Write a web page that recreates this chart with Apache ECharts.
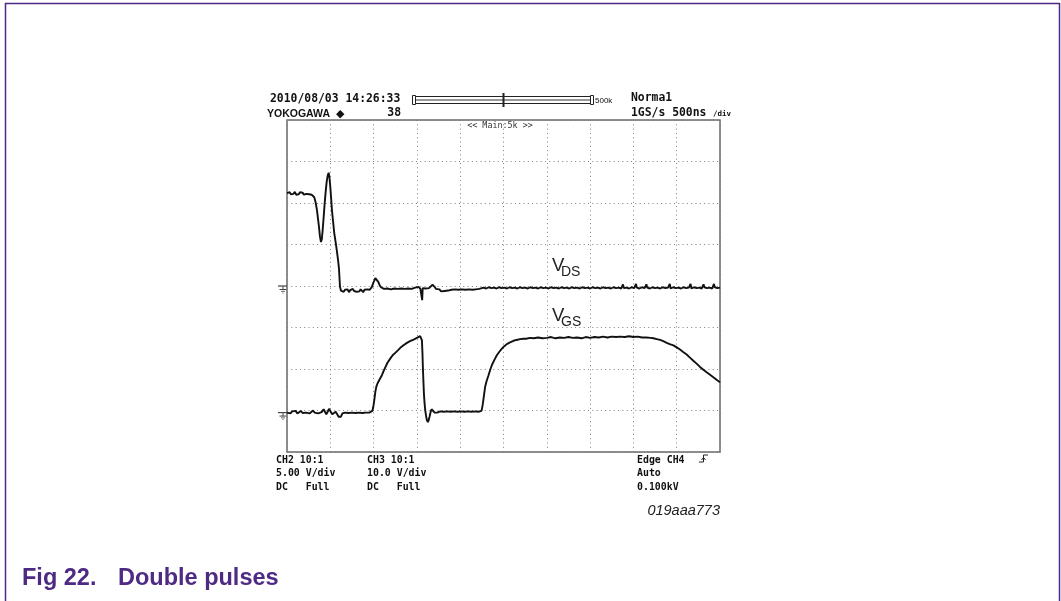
<!DOCTYPE html>
<html>
<head>
<meta charset="utf-8">
<title>Fig 22. Double pulses</title>
<script src="https://cdn.jsdelivr.net/npm/echarts@6/dist/echarts.min.js"></script>
<style>
  html, body { margin: 0; padding: 0; background: #ffffff; }
  #chart { width: 1061px; height: 601px; }
</style>
</head>
<body>
<div id="chart"></div>
<script>
// Time base: 10 divisions of 500 ns
const timeMin = 0;
const timeMax = 5000;
const timePerDiv = 500;
const yDivisions = 8;

// Channel scaling and ground reference (in screen divisions from bottom)
const vdsVoltsPerDiv = 10;
const vgsVoltsPerDiv = 5;
const vdsGroundDiv = 4.0;
const vgsGroundDiv = 0.95;

// Drain-source voltage, [time ns, volts]
const vdsTrace = [
  [0,22.4],[15,22.0],[30,22.6],[45,22.1],[60,22.5],[75,22.2],[90,22.7],[105,22.0],[120,22.4],[135,22.1],
  [150,22.6],[165,22.2],[180,22.5],[195,22.0],[210,22.4],[225,22.2],[240,22.6],[255,22.1],[270,22.3],[285,22.0],
  [300,21.9],[315,21.4],[330,20.2],[346,18.3],[358,16.2],[369,14.3],[380,12.0],[392,10.6],[402,11.3],[412,13.5],
  [424,16.8],[435,19.9],[447,22.8],[458,25.1],[470,26.6],[481,27.3],[490,26.2],[500,23.9],[510,21.0],[519,18.3],
  [532,15.6],[546,12.7],[562,10.5],[577,8.3],[590,6.2],[600,4.2],[606,2.0],[612,-0.2],[623,-1.1],[640,-0.8],
  [655,-1.4],[670,-0.9],[685,-1.3],[700,-0.8],[715,-1.5],[730,-1.0],[745,-1.3],[760,-0.7],[775,-1.2],[790,-0.9],
  [805,-1.4],[820,-1.0],[835,-1.3],[850,-0.8],[865,-1.2],[880,-1.5],[895,-0.9],[910,-1.2],[925,-0.8],[940,-1.1],
  [955,-0.9],[970,-0.5],[981,-0.2],[995,0.7],[1008,1.3],[1020,1.9],[1031,2.1],[1042,1.8],[1054,1.0],[1070,0.2],
  [1085,-0.3],[1100,-0.5],[1120,-0.7],[1140,-0.4],[1160,-0.6],[1180,-0.5],[1200,-0.8],[1220,-0.5],[1240,-0.6],[1260,-0.4],
  [1280,-0.7],[1300,-0.5],[1320,-0.6],[1340,-0.4],[1360,-0.7],[1380,-0.5],[1400,-0.6],[1420,-0.3],[1440,-0.7],[1460,-0.5],
  [1480,-0.4],[1500,-0.6],[1520,-0.2],[1540,-0.7],[1555,-0.4],[1561,-3.4],[1567,-0.5],[1580,-0.3],[1600,-0.6],[1620,-0.2],
  [1640,-0.5],[1660,-0.1],[1680,0.3],[1692,0.4],[1705,-0.2],[1720,-0.7],[1740,-1.0],[1760,-0.8],[1780,-1.3],[1800,-0.9],
  [1820,-1.2],[1840,-0.8],[1860,-1.1],[1880,-1.4],[1900,-0.9],[1920,-1.2],[1940,-0.8],[1960,-1.1],[1980,-0.9],[2000,-1.3],
  [2020,-0.8],[2040,-1.1],[2060,-0.9],[2080,-1.2],[2100,-0.8],[2120,-1.1],[2140,-0.9],[2160,-1.2],[2180,-0.8],[2200,-1.0],
  [2220,-0.7],[2240,-0.6],[2270,-0.4],[2300,-0.6],[2330,-0.3],[2360,-0.5],[2390,-0.4],[2420,-0.6],[2450,-0.3],[2480,-0.5],
  [2510,-0.4],[2540,-0.6],[2570,-0.3],[2600,-0.5],[2630,-0.4],[2660,-0.6],[2690,-0.3],[2720,-0.5],[2750,-0.4],[2780,-0.6],
  [2810,-0.3],[2840,-0.5],[2870,-0.4],[2900,-0.6],[2930,-0.3],[2960,-0.5],[2990,-0.4],[3020,-0.6],[3050,-0.3],[3080,-0.5],
  [3110,-0.4],[3140,-0.6],[3170,-0.3],[3200,-0.5],[3230,-0.4],[3260,-0.6],[3290,-0.3],[3320,-0.5],[3350,-0.4],[3380,-0.6],
  [3410,-0.3],[3440,-0.5],[3470,-0.4],[3500,-0.6],[3530,-0.3],[3560,-0.5],[3590,-0.4],[3620,-0.6],[3650,-0.3],[3680,-0.5],
  [3710,-0.4],[3740,-0.6],[3770,-0.3],[3800,-0.5],[3830,-0.4],[3860,-0.6],[3880,0.4],[3890,-0.5],[3920,-0.4],[3950,-0.6],
  [3980,-0.3],[4010,-0.5],[4030,0.5],[4040,-0.4],[4070,-0.6],[4100,-0.3],[4130,-0.5],[4150,0.4],[4160,-0.4],[4190,-0.6],
  [4220,-0.3],[4250,-0.5],[4280,-0.4],[4310,-0.6],[4340,-0.3],[4370,-0.5],[4400,-0.4],[4420,0.5],[4430,-0.6],[4460,-0.3],
  [4490,-0.5],[4520,-0.4],[4550,-0.6],[4580,-0.3],[4610,-0.5],[4640,-0.4],[4660,0.5],[4670,-0.6],[4700,-0.3],[4730,-0.5],
  [4760,-0.4],[4790,-0.6],[4810,0.4],[4820,-0.3],[4850,-0.5],[4880,-0.4],[4910,-0.6],[4930,0.5],[4940,-0.3],[4970,-0.5],
  [5000,-0.4]
];

// Gate-source voltage, [time ns, volts]
const vgsTrace = [
  [0,0.0],[20,0.2],[40,-0.1],[60,0.15],[80,0.0],[100,0.2],[120,-0.1],[140,0.1],[160,0.2],[180,-0.05],
  [200,0.15],[220,0.0],[240,0.2],[260,-0.1],[280,0.1],[300,0.25],[320,0.0],[340,0.15],[360,-0.1],[380,0.1],
  [400,0.05],[423,0.4],[438,0.1],[454,-0.2],[470,0.1],[485,0.45],[500,0.2],[523,-0.2],[540,0.0],[562,0.1],
  [580,-0.2],[596,-0.5],[610,-0.6],[623,-0.5],[640,-0.1],[654,0.1],[670,0.0],[690,0.15],[710,-0.05],[730,0.1],
  [750,0.0],[770,0.2],[790,-0.05],[810,0.1],[830,0.0],[850,0.15],[870,-0.05],[890,0.1],[910,0.0],[930,0.15],
  [950,0.0],[970,0.1],[985,0.2],[995,0.6],[1008,1.5],[1020,2.5],[1031,3.1],[1045,3.5],[1058,3.7],[1075,4.1],
  [1096,4.5],[1115,5.0],[1135,5.45],[1160,6.0],[1192,6.5],[1220,6.9],[1250,7.2],[1280,7.5],[1308,7.8],[1345,8.1],
  [1385,8.4],[1420,8.6],[1462,8.8],[1500,9.0],[1538,9.2],[1552,9.3],[1558,8.7],[1564,7.2],[1569,5.5],[1575,3.8],
  [1581,2.3],[1588,1.2],[1596,0.3],[1606,-0.4],[1615,-0.9],[1627,-1.15],[1636,-0.9],[1646,-0.5],[1657,0.0],[1669,0.4],
  [1680,0.35],[1692,0.25],[1705,0.0],[1719,-0.17],[1735,0.0],[1750,0.05],[1770,0.15],[1790,-0.05],[1810,0.1],[1830,0.0],
  [1850,0.15],[1870,-0.05],[1890,0.1],[1910,0.0],[1930,0.15],[1950,-0.05],[1970,0.1],[1990,0.0],[2010,0.15],[2030,-0.05],
  [2050,0.1],[2070,0.0],[2090,0.15],[2110,-0.05],[2130,0.1],[2150,0.0],[2170,0.15],[2190,-0.05],[2210,0.1],[2231,0.05],
  [2246,0.2],[2254,0.6],[2262,1.1],[2275,2.1],[2288,3.1],[2305,3.8],[2327,4.5],[2345,5.1],[2365,5.7],[2395,6.35],
  [2423,6.9],[2450,7.3],[2481,7.7],[2510,8.0],[2538,8.25],[2575,8.45],[2615,8.65],[2650,8.75],[2692,8.85],[2730,8.9],
  [2750,9.1],[2760,8.9],[2808,9.0],[2850,8.95],[2900,9.05],[2950,8.95],[3000,9.0],[3050,9.1],[3100,8.95],[3150,9.05],
  [3200,9.0],[3250,9.1],[3300,9.0],[3350,9.05],[3400,8.95],[3450,9.1],[3500,9.0],[3550,9.1],[3600,9.05],[3650,9.15],
  [3700,9.05],[3750,9.15],[3800,9.1],[3846,9.15],[3900,9.1],[3950,9.2],[4000,9.1],[4050,9.15],[4100,9.05],[4150,9.05],
  [4200,9.0],[4231,8.95],[4270,8.85],[4308,8.75],[4345,8.6],[4385,8.4],[4420,8.25],[4462,8.1],[4500,7.85],[4538,7.6],
  [4575,7.3],[4615,7.0],[4650,6.65],[4692,6.25],[4730,5.9],[4769,5.5],[4808,5.15],[4846,4.85],[4885,4.55],[4923,4.25],
  [4960,3.95],[5000,3.65]
];

// Scope readout texts
const headerDate = '2010/08/03 14:26:33';
const headerMode = 'Norma1';
const headerBrand = 'YOKOGAWA';
const headerCount = '38';
const headerRate = '1GS/s 500ns';
const headerZoom = '<< Main:5k >>';
const recordLength = '500k';
const ch2Lines = ['CH2 10:1', '5.00 V/div', 'DC   Full'];
const ch3Lines = ['CH3 10:1', '10.0 V/div', 'DC   Full'];
const trigLines = ['Edge CH4', 'Auto', '0.100kV'];
const figureId = '019aaa773';
const captionNumber = 'Fig 22.';
const captionTitle = 'Double pulses';

const MONO = '"DejaVu Sans Mono", monospace';
const SANS = '"Liberation Sans", Arial, sans-serif';
const PURPLE = '#4e2a84';
const INK = '#111111';

const chart = echarts.init(document.getElementById('chart'), null, { renderer: 'canvas' });

const dotted = { color: '#808080', width: 1, type: [1, 3.3] };

chart.setOption({
  animation: false,
  backgroundColor: '#ffffff',
  grid: {
    left: 287, top: 120, width: 433, height: 332,
    show: true, borderColor: '#6a6a6a', borderWidth: 1.5, backgroundColor: 'transparent'
  },
  xAxis: {
    type: 'value', min: timeMin, max: timeMax, interval: timePerDiv,
    axisLine: { show: false }, axisTick: { show: false }, axisLabel: { show: false },
    splitLine: { show: true, lineStyle: dotted }
  },
  yAxis: [
    {
      type: 'value', min: 0, max: yDivisions, interval: 1,
      axisLine: { show: false }, axisTick: { show: false }, axisLabel: { show: false },
      splitLine: { show: true, lineStyle: dotted }
    },
    {
      type: 'value', show: false,
      min: -vdsGroundDiv * vdsVoltsPerDiv,
      max: (yDivisions - vdsGroundDiv) * vdsVoltsPerDiv,
      splitLine: { show: false }
    },
    {
      type: 'value', show: false,
      min: -vgsGroundDiv * vgsVoltsPerDiv,
      max: (yDivisions - vgsGroundDiv) * vgsVoltsPerDiv,
      splitLine: { show: false }
    }
  ],
  series: [
    {
      name: 'VDS', type: 'line', yAxisIndex: 1, data: vdsTrace,
      showSymbol: false, smooth: false, clip: true,
      lineStyle: { color: INK, width: 1.9 }
    },
    {
      name: 'VGS', type: 'line', yAxisIndex: 2, data: vgsTrace,
      showSymbol: false, smooth: false, clip: true,
      lineStyle: { color: INK, width: 1.9 }
    }
  ]
});

function txt(text, x, y, font, opts) {
  const o = opts || {};
  return {
    type: 'text', silent: true,
    style: {
      text: text, x: x, y: y, font: font, fill: o.fill || INK,
      align: o.align || 'left', verticalAlign: 'middle',
      textAlign: o.align || 'left', textVerticalAlign: 'middle'
    }
  };
}
function seg(x1, y1, x2, y2, w, color) {
  return {
    type: 'line', silent: true,
    shape: { x1: x1, y1: y1, x2: x2, y2: y2 },
    style: { stroke: color || '#333', lineWidth: w || 1 }
  };
}
// Channel ground marker on the left edge of the grid
function groundMark(y) {
  return [
    seg(278, y, 287, y, 1.2, '#444'),
    seg(283, y, 283, y + 3.5, 1, '#444'),
    seg(279.5, y + 3.5, 286.5, y + 3.5, 1, '#444'),
    seg(281, y + 5.3, 285, y + 5.3, 1, '#666'),
    seg(282.3, y + 7, 283.7, y + 7, 1, '#888')
  ];
}

const vdsGroundY = chart.convertToPixel({ yAxisIndex: 1 }, 0);
const vgsGroundY = chart.convertToPixel({ yAxisIndex: 2 }, 0);

const monoHead = 'bold 11.4px ' + MONO;
const monoFoot = 'bold 9.9px ' + MONO;

const elements = [
  // page frame
  seg(5, 3.5, 1060, 3.5, 1.5, PURPLE),
  seg(5.5, 3, 5.5, 601, 1.5, PURPLE),
  seg(1059.5, 3, 1059.5, 601, 1.5, PURPLE),

  // header
  txt(headerDate, 270, 99.5, monoHead),
  txt(headerMode, 631, 98.5, monoHead),
  txt(headerBrand, 267, 114.5, 'bold 10.5px ' + SANS),
  txt('\u25C6', 336, 114, '11px "DejaVu Sans", sans-serif'),
  txt(headerCount, 401, 113.5, monoHead, { align: 'right' }),
  txt(headerRate, 631, 113.5, monoHead),
  txt('/div', 713, 114.5, 'bold 7.5px ' + MONO),

  // record-length bar
  { type: 'rect', silent: true, shape: { x: 412.5, y: 95.5, width: 3, height: 9 }, style: { fill: 'none', stroke: '#222', lineWidth: 1 } },
  { type: 'rect', silent: true, shape: { x: 415.5, y: 96.5, width: 175, height: 7 }, style: { fill: '#ffffff', stroke: '#222', lineWidth: 1 } },
  seg(416, 100, 590, 100, 2, '#9a9a9a'),
  { type: 'rect', silent: true, shape: { x: 590.5, y: 95.5, width: 3, height: 9 }, style: { fill: 'none', stroke: '#222', lineWidth: 1 } },
  seg(503.5, 93, 503.5, 107, 2, '#222'),
  txt(recordLength, 595, 100.5, '8px ' + SANS),

  // zoom indicator inside the top of the grid
  txt(headerZoom, 500, 125.5, '8.4px ' + MONO, { align: 'center', fill: '#333' }),

  // channel labels on the traces
  txt('V', 552, 265.5, '18.5px ' + SANS, { fill: '#222' }),
  txt('DS', 561, 272.5, '14px ' + SANS, { fill: '#222' }),
  txt('V', 552, 316, '18.5px ' + SANS, { fill: '#222' }),
  txt('GS', 561, 322.5, '14px ' + SANS, { fill: '#222' }),

  // trigger edge icon
  { type: 'polyline', silent: true, shape: { points: [[699, 462], [703.5, 462], [703.5, 455], [708, 455]] }, style: { fill: 'none', stroke: '#222', lineWidth: 1 } },
  { type: 'polyline', silent: true, shape: { points: [[701.5, 460], [703.5, 457.5], [705.5, 460]] }, style: { fill: 'none', stroke: '#222', lineWidth: 1 } },

  // figure id and caption
  txt(figureId, 720, 511, 'italic 14.5px ' + SANS, { align: 'right', fill: '#222' }),
  txt(captionNumber, 22, 578.5, 'bold 23.5px ' + SANS, { fill: PURPLE }),
  txt(captionTitle, 118, 578.5, 'bold 23.5px ' + SANS, { fill: PURPLE })
];

const footRows = [460, 473.5, 487.5];
ch2Lines.forEach((t, i) => elements.push(txt(t, 276, footRows[i], monoFoot)));
ch3Lines.forEach((t, i) => elements.push(txt(t, 367, footRows[i], monoFoot)));
trigLines.forEach((t, i) => elements.push(txt(t, 637, footRows[i], monoFoot)));

groundMark(vdsGroundY).forEach(e => elements.push(e));
groundMark(vgsGroundY).forEach(e => elements.push(e));

chart.setOption({ graphic: { elements: elements } });
</script>
</body>
</html>
